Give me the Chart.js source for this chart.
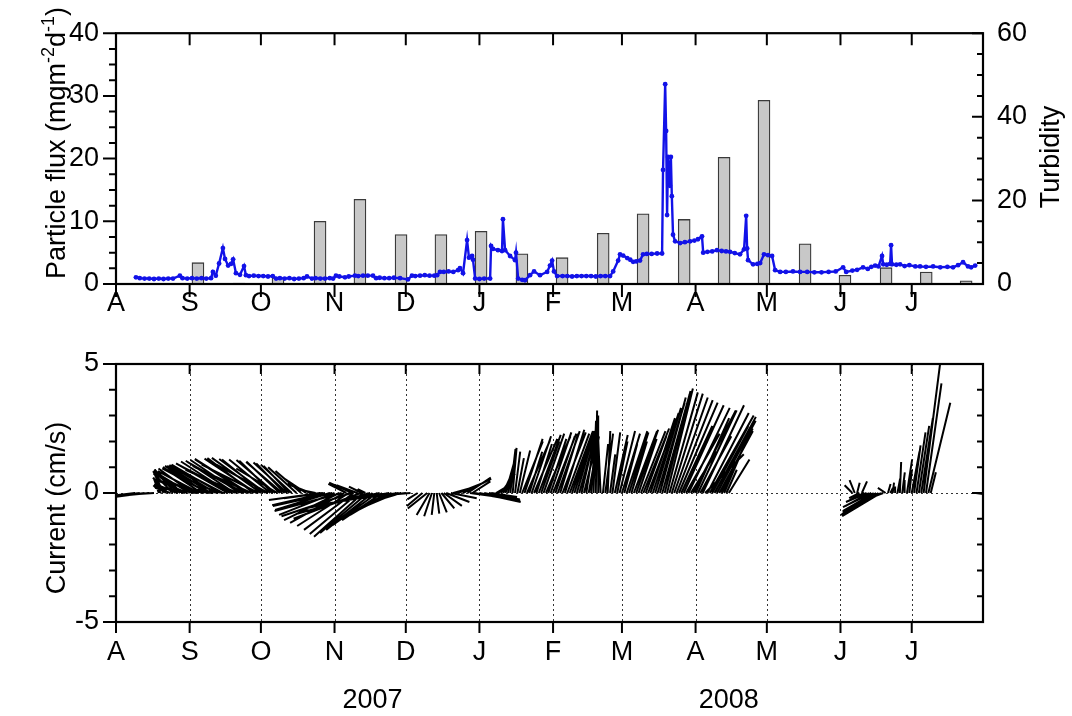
<!DOCTYPE html>
<html>
<head>
<meta charset="utf-8">
<script src="https://cdn.jsdelivr.net/npm/chart.js@4.4.0/dist/chart.umd.min.js"></script>
<style>
  body { margin: 0; background: #fff; }
  #wrap { position: relative; width: 1072px; height: 716px; }
  canvas { position: absolute; left: 0; }
</style>
</head>
<body>
<div id="wrap">
  <canvas id="fluxChart" width="1072" height="330" style="top:0"></canvas>
  <canvas id="currentChart" width="1072" height="386" style="top:330px"></canvas>
</div>
<script>
const FONT = "'Liberation Sans', Arial, sans-serif";
const FONT_SIZE = 27;

// x axis: days since 1 Aug 2007
const monthDays = [0, 31, 61, 92, 122, 153, 184, 213, 244, 274, 305, 335];
const monthLetters = ['A', 'S', 'O', 'N', 'D', 'J', 'F', 'M', 'A', 'M', 'J', 'J'];
const yearLabels = ['2007', '2008'];
const yearDays = [108, 258];

// particle flux (bars, left axis)
const barDays = [34.5, 51.8, 68.2, 85.9, 102.7, 120, 136.8, 153.7, 170.9, 187.8,
  205.1, 221.9, 239.2, 256, 272.8, 290.1, 306.9, 324.2, 341.1, 357.9];
const fluxValues = [3.4, 0.15, 1.0, 10, 13.5, 7.9, 7.9, 8.4, 4.8, 4.2,
  8.1, 11.2, 10.3, 20.2, 29.3, 6.4, 1.4, 2.6, 1.9, 0.5];

// turbidity [day, value] (line, right axis)
const turbidity = [
  [8.4, 1.6], [10, 1.4], [12, 1.3], [14, 1.3], [16, 1.2], [18, 1.3], [20, 1.2], [22, 1.3], [24, 1.3],
  [26.9, 2.0], [28, 1.4], [30, 1.3], [32, 1.4], [34, 1.3], [36, 1.4], [38, 1.3], [40, 1.4], [40.8, 2.9],
  [42, 2.0], [43.4, 4.9], [45, 8.6], [45.9, 6.0], [47.2, 4.4], [48.4, 4.8], [49.3, 5.9], [50.5, 2.6],
  [52.2, 2.2], [53.9, 4.3], [54.7, 2.1], [56, 1.9], [58, 2.0], [60, 1.9], [62, 1.9], [64, 1.8], [66, 1.9],
  [67.4, 1.3], [69, 1.4], [71, 1.3], [73, 1.4], [75, 1.2], [77, 1.3], [79, 1.4], [80.4, 1.8], [82.5, 1.3],
  [84, 1.4], [86, 1.3], [88, 1.3], [90, 1.4], [91.4, 1.3], [92.6, 2.0], [94, 1.8], [96.4, 1.6], [98, 1.8],
  [100.6, 2.0], [102, 1.9], [104, 2.0], [106, 2.0], [108.2, 2.0], [109.5, 1.4], [111, 1.5], [113, 1.4],
  [115, 1.4], [117, 1.5], [119.6, 1.4], [122.9, 1.1], [124.6, 2.0], [126, 1.9], [128, 2.0], [130, 2.1],
  [132, 2.0], [134, 2.0], [135.2, 2.1], [136.4, 2.9], [138, 2.9], [140, 3.0], [142, 2.9], [144, 3.3],
  [144.8, 3.8], [146.1, 2.6], [147.8, 10.5], [148.6, 6.3], [149.9, 6.7], [150.3, 5.8], [151.2, 1.3],
  [153, 1.2], [155, 1.3], [157.5, 1.3], [157.9, 9.1], [158.7, 8.4], [160.8, 8.1], [162.5, 7.9],
  [162.9, 15.5], [163.8, 8.1], [165.9, 6.7], [168, 5.7], [168.4, 7.5], [169.3, 1.3], [171, 1.0],
  [172.2, 0.9], [174.3, 2.1], [176, 3.0], [178.5, 2.1], [181.5, 2.9], [182.7, 4.4], [183.6, 5.6],
  [184.4, 3.0], [185.7, 1.9], [188, 1.9], [190, 1.9], [192, 1.8], [194, 1.9], [196, 1.9], [198, 1.9],
  [200, 1.9], [202, 1.8], [204, 1.9], [206, 1.9], [208, 1.9], [209.3, 3.0], [211.4, 5.6], [212.2, 7.1],
  [213.5, 6.8], [215.2, 6.2], [216.5, 5.8], [217.7, 5.3], [219, 5.4], [220.6, 5.6], [221.9, 7.1],
  [223.5, 7.2], [225.5, 7.2], [227.8, 7.3], [229.9, 7.3], [230.3, 27.3], [231.2, 47.8], [231.6, 36.6],
  [232, 16.5], [232.4, 30.4], [233.2, 23.5], [233.6, 30.4], [234, 21.0], [234.5, 11.8], [235.4, 10.2],
  [237.5, 9.8], [239.5, 10.0], [241.7, 10.2], [243.5, 10.4], [245, 10.7], [246.7, 11.4], [247.2, 7.5],
  [249, 7.7], [251, 7.8], [253, 8.1], [255, 7.9], [256.8, 7.8], [258.5, 7.7], [260.5, 7.4], [262.7, 7.1],
  [264.4, 8.3], [265.3, 16.3], [265.7, 8.5], [266.1, 5.7], [268.2, 4.7], [270, 4.8], [271.2, 5.0],
  [272.8, 7.1], [274.5, 6.9], [276.2, 6.7], [277.5, 3.3], [279.6, 2.9], [282, 2.9], [285, 3.0], [288, 2.9],
  [291, 2.9], [294, 2.8], [297, 2.8], [300, 2.9], [303, 3.0], [306.1, 4.0], [307.4, 2.9], [310, 3.2],
  [312, 3.4], [314.5, 4.0], [316.5, 3.6], [318, 4.1], [319.6, 4.4], [321, 4.2], [322.5, 6.7], [323, 4.7],
  [324.5, 4.6], [325.9, 4.8], [326.3, 9.3], [326.7, 4.7], [328.5, 4.6], [330.1, 4.7], [332, 4.3],
  [334, 4.5], [336.5, 4.2], [338.5, 4.2], [341, 4.1], [344, 4.2], [347, 4.0], [350, 4.1], [352.4, 4.0],
  [354.5, 4.5], [356.6, 5.2], [358.7, 4.2], [360, 4.0], [361.7, 4.4]
];

// current vectors [day, u east cm/s, v north cm/s]
const currents = [
  [8, -0.8, -0.1], [10, -1.0, -0.12], [12, -1.1, -0.15], [14, -1.3, -0.13], [16, -1.5, -0.1],
  [18, -0.2, 0.6], [19, -0.3, 0.3], [20, -0.4, 0.85], [21, -0.5, 0.6], [22, -0.55, 0.5], [23, -0.6, 0.2],
  [24, -0.75, 0.75], [25, -0.8, 0.9], [26, -0.9, 0.35], [27, -1.0, 0.8], [28, -1.1, 0.9], [29, -1.2, 0.3],
  [30, -1.3, 0.55], [31, -1.4, 0.85], [32, -1.3, 0.95], [33, -1.5, 0.7], [34, -1.5, 0.2], [35, -1.6, 0.85],
  [36, -1.5, 1.0], [37, -1.8, 0.5], [38, -1.6, 1.05], [39, -1.8, 0.95], [40, -1.7, 1.05], [41, -1.7, 0.15],
  [42, -1.8, 1.08], [43, -2.0, 0.9], [44, -1.9, 1.1], [45, -2.0, 1.05], [46, -1.3, 0.15], [47, -2.0, 1.15],
  [48, -1.9, 1.22], [49, -2.1, 1.1], [50, -1.9, 1.25], [51, -2.0, 0.9], [52, -1.9, 1.28], [53, -2.1, 1.2],
  [54, -2.0, 1.05], [55, -2.0, 1.3], [56, -2.1, 1.32], [57, -2.2, 1.0], [58, -1.8, 1.35], [59, -2.0, 1.33],
  [60, -2.2, 1.1], [61, -1.9, 1.36], [62, -1.6, 1.3], [63, -1.8, 1.32], [64, -2.0, 1.1], [65, -1.6, 1.3],
  [66, -1.3, 1.25], [67, -1.5, 1.28], [68, -1.6, 0.95], [69, -1.3, 1.22], [70, -1.4, 1.2], [71, -1.1, 1.15],
  [72, -1.3, 1.18], [73, -1.0, 1.05], [74, -1.2, 1.1], [76, -1.1, 1.0], [78, -1.0, 0.85], [80, -0.9, 0.6],
  [82, -0.9, 0.35], [84, -0.7, 0.15],
  [86, -1.99, -0.27], [87, -1.5, -0.2], [88, -2.05, -0.47], [90, -2.12, -0.66], [91, -2.3, -0.5],
  [92, -2.15, -0.85], [94, -2.14, -1.05], [95, -2.6, -0.7], [96, -2.09, -1.16], [97, -0.7, 0.35],
  [98, -2.0, -1.28], [99, -2.7, -0.9], [99.5, -0.9, 0.4], [100, -1.92, -1.43], [101.5, -0.8, 0.3],
  [102, -1.88, -1.59], [103, -2.6, -1.0], [103.5, -0.5, 0.25], [104, -1.9, -1.7], [105, -0.3, 0.15],
  [106, -1.85, -1.55], [107, -2.8, -0.8], [108, -1.8, -1.43], [110, -1.72, -1.24], [111, -2.9, -0.6],
  [112, -1.55, -1.05], [114, -1.42, -0.85], [115, -2.6, -0.45], [116, -1.3, -0.66], [118, -1.1, -0.47],
  [119, -2.3, -0.3], [120, -0.9, -0.27], [122, -1.8, -0.2], [124, -1.2, -0.1],
  [127, -0.4, -0.25], [129, -0.6, -0.5], [131, -0.75, -0.6], [132, -0.5, -0.85], [133, -0.3, -0.9],
  [134, -0.1, -0.85], [135, 0.1, -0.8], [136, 0.3, -0.75], [137, 0.5, -0.6], [138, 0.7, -0.5],
  [139, 0.9, -0.35], [141, 1.0, -0.2], [142, 0.9, 0.25], [144, 1.0, 0.4], [146, 1.1, 0.55], [148, 0.9, 0.6],
  [149, 1.5, -0.2], [150, 0.7, 0.45], [151, 1.7, -0.3], [153, 1.6, -0.35], [155, 1.4, -0.3],
  [157, 1.2, -0.25], [158, 1.0, -0.15],
  [160, 0.5, 0.3], [161, 0.6, 0.5], [162, 0.55, 0.75], [163, 0.45, 1.0], [164, 0.35, 1.25], [165, 0.3, 1.5],
  [166, 0.2, 1.7], [167, 0.15, 1.75], [168, 0.2, 1.6], [169, 0.25, 1.35], [170, 0.4, 1.65], [171, 0.8, 2.0],
  [172, 0.7, 2.1], [173, 0.9, 2.05], [174, 0.5, 1.6], [175, 0.75, 2.2], [176, 0.9, 2.1], [177, 0.6, 1.9],
  [178, 0.85, 2.25], [179, 0.7, 2.0], [180, 0.8, 2.3], [181, 0.95, 2.2], [182, 0.7, 2.1], [183, 0.8, 2.35],
  [184, 0.9, 2.3], [185, 0.75, 2.2], [186, 0.85, 2.4], [187, 0.7, 2.3], [188, 0.9, 2.35], [189, 0.75, 2.45],
  [190, 0.85, 2.3], [191, 0.9, 2.4], [192, 0.8, 2.35], [193, 0.75, 2.4], [194, 0.7, 2.4], [195, 0.6, 2.1],
  [196, 0.5, 2.2], [197, 0.45, 1.8], [198, 0.3, 2.0], [199, 0.4, 2.2], [200, 0.2, 2.5], [201, 0.1, 2.8],
  [202, 0.05, 3.2], [203, 0.0, 3.0], [204, -0.1, 2.3], [205, 0.2, 1.9], [206, 0.3, 2.3], [207, 0.1, 2.4],
  [208, 0.2, 1.5], [209, 0.3, 2.35], [210, 0.5, 2.25], [211, 0.4, 2.0], [212, 0.6, 2.4], [213, 0.7, 2.3],
  [214, 0.5, 1.9], [215, 0.8, 2.4], [216, 0.75, 2.35], [217, 0.6, 2.0], [218, 0.9, 2.4], [219, 0.85, 2.45],
  [220, 0.7, 2.1], [221, 0.95, 2.4], [222, 1.0, 2.5], [223, 0.8, 2.2], [224, 1.0, 2.6], [225, 0.95, 2.9],
  [226, 1.0, 3.1], [227, 1.0, 3.3], [228, 1.05, 3.5], [229, 1.0, 3.7], [230, 1.05, 3.8], [231, 1.0, 3.95],
  [232, 1.0, 4.05], [233, 1.1, 3.9], [234, 1.2, 3.85], [235, 1.3, 3.7], [236, 1.4, 3.6], [237, 1.5, 3.5],
  [238, 1.2, 2.6], [239, 1.55, 3.4], [240, 1.3, 2.3], [241, 1.6, 3.3], [242, 1.0, 1.6], [243, 1.65, 3.2],
  [244, 1.3, 2.9], [245, 1.5, 3.2], [246, 1.2, 2.2], [247, 1.6, 3.4], [248, 1.5, 1.5], [249, 1.6, 3.1],
  [250, 1.7, 3.0], [251, 1.4, 2.6], [252, 1.6, 2.95], [253, 1.5, 2.8], [254, 1.3, 2.4], [255, 1.2, 2.5],
  [256, 0.6, 1.4], [257, 0.4, 0.9], [258, 0.8, 1.3],
  [310, -0.3, 0.3], [311, -0.2, 0.5], [312, 0.1, 0.4], [313, -0.4, -0.2], [314, 0.2, 0.45], [315, -0.6, -0.3],
  [316, -0.8, -0.35], [317, -0.9, -0.5], [318, -1.1, -0.55], [319, -1.2, -0.7], [320, -1.3, -0.75],
  [321, -1.45, -0.85], [322, -1.5, -0.9], [323, -0.8, -0.3], [324, -0.3, 0.2], [325, 0.1, 0.35],
  [326, 0.1, 0.2], [327, 0.05, 0.4], [328, 0.0, 0.25], [329, 0.1, 0.55], [330, 0.05, 1.2], [331, 0.1, 0.8],
  [332, 0.0, 0.5], [333, 0.2, 1.3], [334, 0.1, 0.9], [335, 0.3, 1.6], [336, 0.25, 1.85], [337, 0.35, 2.35],
  [338, 0.4, 2.6], [339, 0.45, 2.9], [340, 0.65, 5.1], [341, 0.6, 4.25], [342, 0.85, 3.5], [343, 0.2, 0.8],
  [362, 0.35, -0.05]
];

// equal scaling of east and north components: days per cm/s on the time axis
const DAYS_PER_CMS = (365 / 867) * (258 / 10);

const stickPoints = [];
currents.forEach(([d, u, v]) => {
  stickPoints.push({ x: d, y: 0 }, { x: d + u * DAYS_PER_CMS, y: v }, { x: d, y: null });
});

function monthAxis(padding, height) {
  return {
    type: 'linear', min: 0, max: 365, offset: false,
    afterBuildTicks: (s) => { s.ticks = monthDays.map(v => ({ value: v })); },
    afterFit: (s) => { s.height = height; },
    ticks: {
      callback: (v, i) => monthLetters[i],
      autoSkip: false, maxRotation: 0, padding: padding,
      color: '#000', font: { family: FONT, size: FONT_SIZE }
    },
    grid: { display: false, drawTicks: false },
    border: { display: false }
  };
}

function valueAxis(position, min, max, step, padding, width) {
  return {
    position: position, min: min, max: max,
    afterFit: (s) => { s.width = width; },
    ticks: { stepSize: step, padding: padding, color: '#000', font: { family: FONT, size: FONT_SIZE } },
    grid: { display: false, drawTicks: false },
    border: { display: false }
  };
}

const isMultiple = (v, m) => Math.abs(v / m - Math.round(v / m)) < 1e-6;

// frame and tick marks, drawn from the chart's scales
function drawFrame(chart, o) {
  const { ctx, chartArea: a, scales } = chart;
  ctx.save();
  ctx.strokeStyle = '#000';
  ctx.lineWidth = 2;
  ctx.beginPath();
  monthDays.forEach(d => {
    const x = scales.x.getPixelForValue(d);
    ctx.moveTo(x, a.bottom); ctx.lineTo(x, a.bottom + o.bottomOut);
    ctx.moveTo(x, a.top); ctx.lineTo(x, a.top + o.topIn);
  });
  const L = scales[o.left];
  for (let v = L.min; v <= L.max + 1e-9; v += o.leftMinor) {
    const y = L.getPixelForValue(v);
    ctx.moveTo(a.left, y); ctx.lineTo(a.left - (isMultiple(v, o.leftMajor) ? 13 : 7), y);
  }
  const R = scales[o.right];
  for (let v = R.min; v <= R.max + 1e-9; v += o.rightMinor) {
    const y = R.getPixelForValue(v);
    ctx.moveTo(a.right, y); ctx.lineTo(a.right - (isMultiple(v, o.rightMajor) ? 11 : 6), y);
  }
  ctx.stroke();
  ctx.lineWidth = 2.2;
  ctx.strokeRect(a.left, a.top, a.right - a.left, a.bottom - a.top);
  ctx.restore();
}

function drawRotated(ctx, parts, cx, cy) {
  const big = FONT_SIZE + 'px ' + FONT, small = '18px ' + FONT;
  let total = 0;
  parts.forEach(([t, sup]) => { ctx.font = sup ? small : big; total += ctx.measureText(t).width; });
  ctx.save();
  ctx.translate(cx, cy);
  ctx.rotate(-Math.PI / 2);
  ctx.fillStyle = '#000';
  ctx.textAlign = 'left';
  ctx.textBaseline = 'middle';
  let x = -total / 2;
  parts.forEach(([t, sup]) => {
    ctx.font = sup ? small : big;
    ctx.fillText(t, x, sup ? -9 : 0);
    x += ctx.measureText(t).width;
  });
  ctx.restore();
}

const fluxDecor = {
  id: 'fluxDecor',
  afterDraw(chart) {
    drawFrame(chart, { left: 'y', right: 'y1', leftMinor: 2.5, leftMajor: 10, rightMinor: 5, rightMajor: 20, bottomOut: 13, topIn: 12 });
    const ctx = chart.ctx;
    drawRotated(ctx, [['Particle flux (mgm', false], ['-2', true], ['d', false], ['-1', true], [')', false]], 58, 143);
    drawRotated(ctx, [['Turbidity', false]], 1052, 157);
  }
};

const currentDecor = {
  id: 'currentDecor',
  beforeDatasetsDraw(chart) {
    const { ctx, chartArea: a, scales } = chart;
    ctx.save();
    ctx.strokeStyle = '#333';
    ctx.lineWidth = 1;
    ctx.setLineDash([2, 3]);
    ctx.beginPath();
    monthDays.slice(1).forEach(d => {
      const x = Math.round(scales.x.getPixelForValue(d)) + 0.5;
      ctx.moveTo(x, a.top); ctx.lineTo(x, a.bottom);
    });
    const y0 = Math.round(scales.y.getPixelForValue(0)) + 0.5;
    ctx.moveTo(a.left, y0); ctx.lineTo(a.right, y0);
    ctx.stroke();
    ctx.restore();
  },
  afterDraw(chart) {
    drawFrame(chart, { left: 'y', right: 'y', leftMinor: 1, leftMajor: 5, rightMinor: 1, rightMajor: 5, bottomOut: 11, topIn: 10 });
    const ctx = chart.ctx;
    drawRotated(ctx, [['Current (cm/s)', false]], 58, 178);
    ctx.save();
    ctx.fillStyle = '#000';
    ctx.font = FONT_SIZE + 'px ' + FONT;
    ctx.textAlign = 'center';
    ctx.textBaseline = 'middle';
    yearLabels.forEach((t, i) => ctx.fillText(t, chart.scales.x.getPixelForValue(yearDays[i]), 371));
    ctx.restore();
  }
};

new Chart(document.getElementById('fluxChart'), {
  type: 'line',
  data: {
    datasets: [
      {
        type: 'line',
        label: 'Turbidity',
        data: turbidity.map(([d, t]) => ({ x: d, y: t })),
        yAxisID: 'y1',
        borderColor: '#1212e8',
        backgroundColor: '#1212e8',
        borderWidth: 2.4,
        pointRadius: 2.4,
        pointBorderWidth: 0,
        tension: 0,
        order: 0
      },
      {
        type: 'bar',
        label: 'Particle flux',
        data: barDays.map((d, i) => ({ x: d, y: fluxValues[i] })),
        yAxisID: 'y',
        backgroundColor: '#c8c8c8',
        borderColor: '#3a3a3a',
        borderWidth: 1.3,
        barThickness: 12,
        order: 1
      }
    ]
  },
  options: {
    responsive: false,
    animation: false,
    layout: { padding: { top: 26, left: 0, right: 0, bottom: 0 } },
    plugins: { legend: { display: false }, tooltip: { enabled: false } },
    scales: {
      x: monthAxis(3, 46),
      y: valueAxis('left', 0, 40, 10, 17, 116),
      y1: valueAxis('right', 0, 60, 20, 14, 89)
    }
  },
  plugins: [fluxDecor]
});

new Chart(document.getElementById('currentChart'), {
  type: 'line',
  data: {
    datasets: [{
      label: 'Current',
      data: stickPoints,
      borderColor: '#000',
      borderWidth: 2,
      pointRadius: 0,
      tension: 0,
      spanGaps: false
    }]
  },
  options: {
    responsive: false,
    animation: false,
    layout: { padding: { top: 34, left: 0, right: 89, bottom: 0 } },
    plugins: { legend: { display: false }, tooltip: { enabled: false } },
    scales: {
      x: monthAxis(14, 94),
      y: valueAxis('left', -5, 5, 5, 17, 116)
    }
  },
  plugins: [currentDecor]
});
</script>
</body>
</html>
